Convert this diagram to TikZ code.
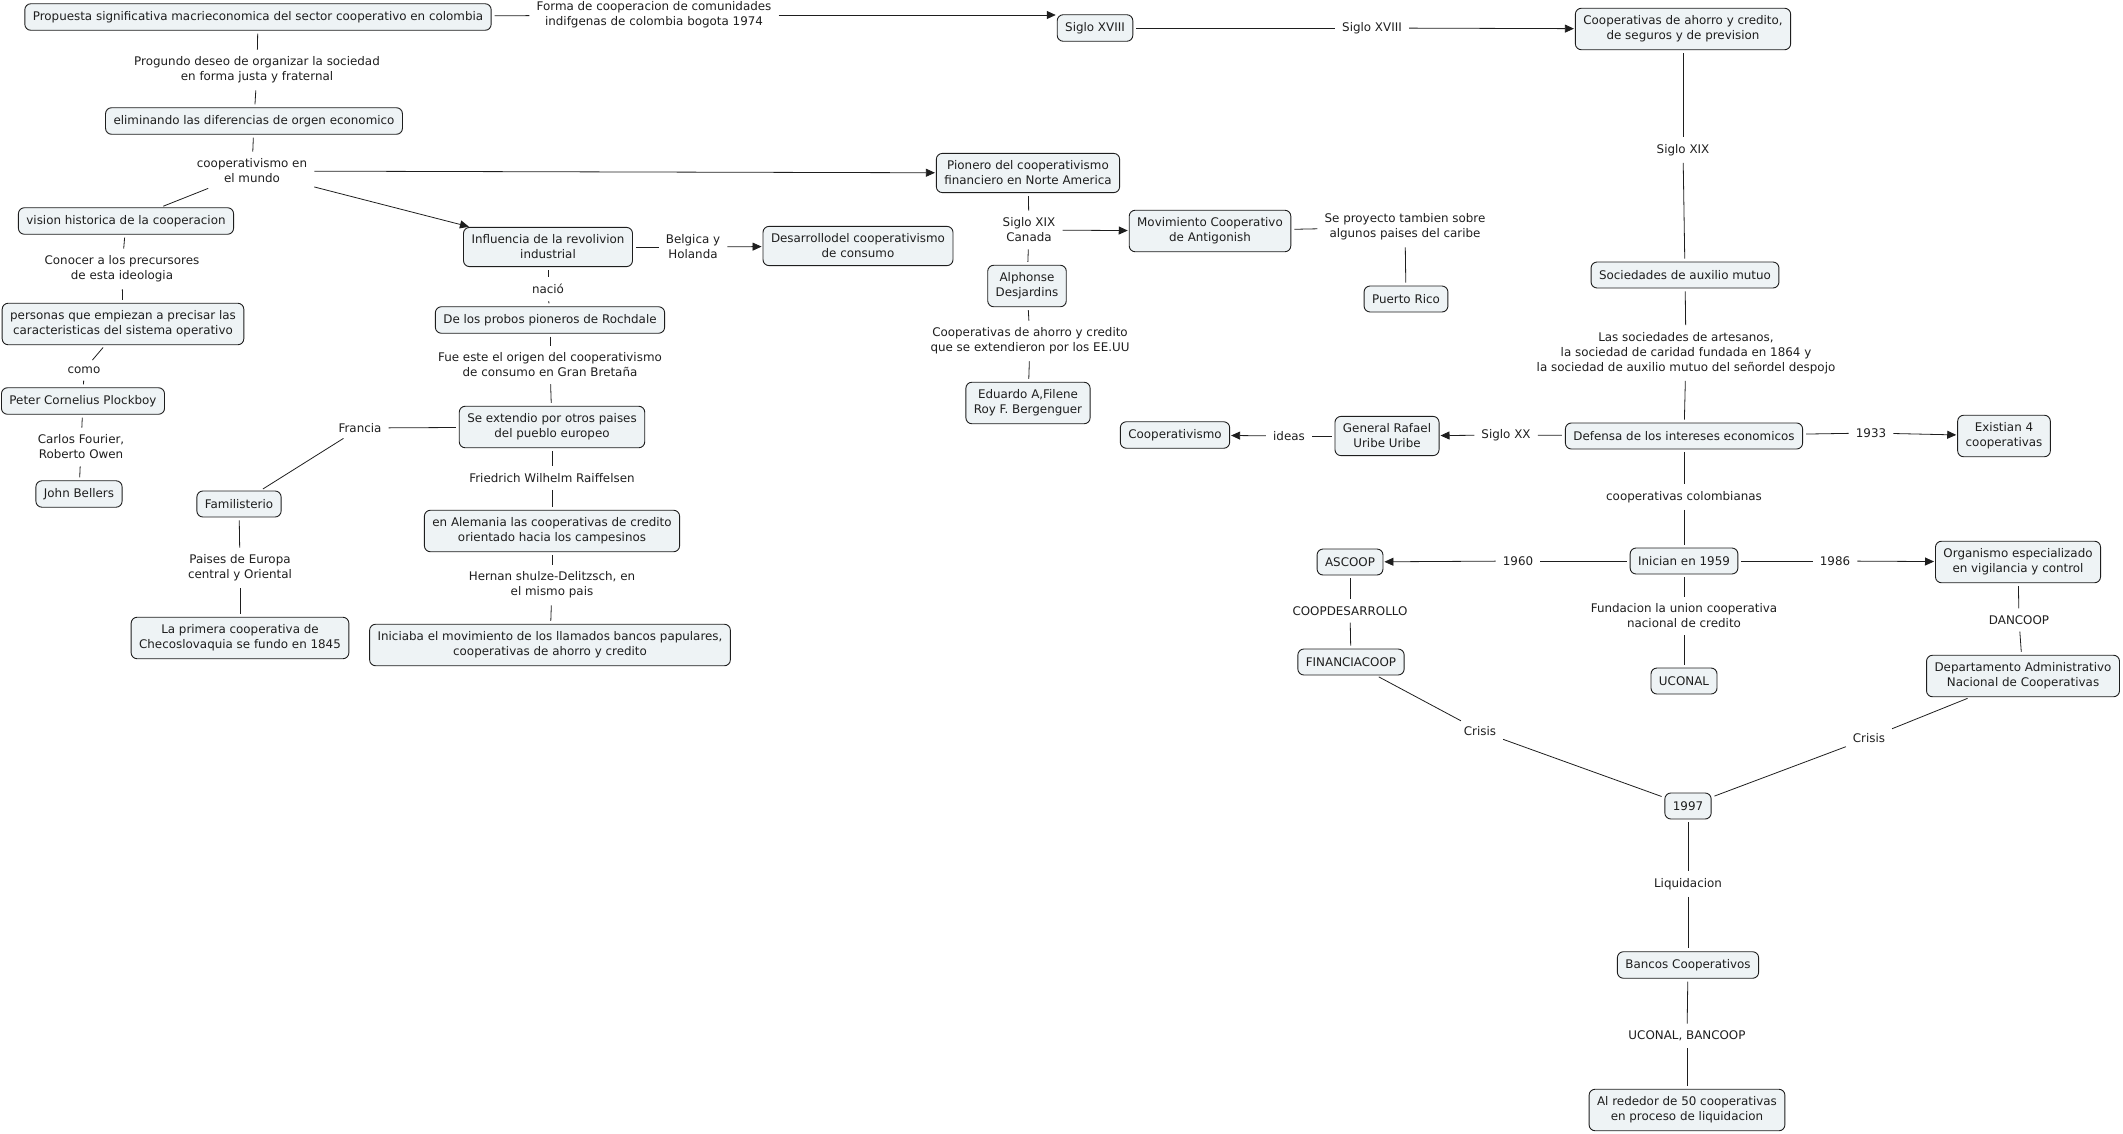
\documentclass[tikz,border=0pt]{standalone}
\usepackage{fontspec}
\setmainfont{DejaVu Sans}
\usepackage{xcolor}
\definecolor{cfill}{RGB}{238,243,245}
\definecolor{cline}{RGB}{30,30,30}
\usetikzlibrary{arrows.meta}

\begin{document}
\begin{tikzpicture}[
  x=1pt, y=-1pt,
  every node/.style={font=\fontsize{11.9}{15}\selectfont, text=cline},
  concept/.style={draw=cline, line width=0.9pt, fill=cfill, rounded corners=6pt,
                  align=center, inner xsep=8pt, inner ysep=7.5pt, minimum height=26pt},
  lbl/.style={align=center, inner sep=4pt},
  conn/.style={draw=cline, line width=0.8pt, shorten <=3pt, shorten >=3pt},
  arr/.style={conn, -{Triangle[length=9pt,width=8pt]}, shorten >=1pt},
]
  \useasboundingbox (0,0) rectangle (2123,1133);

  % Left column
  \node[concept] (prop)     at (258,17)  {Propuesta significativa macrieconomica del sector cooperativo en colombia};
  \node[lbl]     (progundo) at (257,70)  {Progundo deseo de organizar la sociedad\\en forma justa y fraternal};
  \node[concept] (elim)     at (254,121) {eliminando las diferencias de orgen economico};
  \node[lbl]     (coopm)    at (252,171) {cooperativismo en\\el mundo};
  \node[concept] (vision)   at (126,221) {vision historica de la cooperacion};
  \node[lbl]     (conocer)  at (122,269) {Conocer a los precursores\\de esta ideologia};
  \node[concept] (personas) at (123,324) {personas que empiezan a precisar las\\caracteristicas del sistema operativo};
  \node[lbl]     (como)     at (84,370)  {como};
  \node[concept] (peter)    at (83,401)  {Peter Cornelius Plockboy};
  \node[lbl]     (carlos)   at (81,447)  {Carlos Fourier,\\Roberto Owen};
  \node[concept] (bellers)  at (79,494)  {John Bellers};

  \draw[conn] (prop) -- (progundo);
  \draw[conn] (progundo) -- (elim);
  \draw[conn] (elim) -- (coopm);
  \draw[conn] (coopm) -- (vision);
  \draw[conn] (vision) -- (conocer);
  \draw[conn] (conocer) -- (personas);
  \draw[conn] (personas) -- (como);
  \draw[conn] (como) -- (peter);
  \draw[conn] (peter) -- (carlos);
  \draw[conn] (carlos) -- (bellers);

  % Revolucion industrial branch
  \node[concept] (influ)     at (548,247) {Influencia de la revolivion\\industrial};
  \node[lbl]     (belgica)   at (693,247) {Belgica y\\Holanda};
  \node[concept] (desarr)    at (858,246) {Desarrollodel cooperativismo\\de consumo};
  \node[lbl]     (nacio)     at (548,289) {nació};
  \node[concept] (rochdale)  at (550,320) {De los probos pioneros de Rochdale};
  \node[lbl]     (fueeste)   at (550,365) {Fue este el origen del cooperativismo\\de consumo en Gran Bretaña};
  \node[concept] (extendio)  at (552,427) {Se extendio por otros paises\\del pueblo europeo};
  \node[lbl]     (francia)   at (360,428) {Francia};
  \node[concept] (famil)     at (239,504) {Familisterio};
  \node[lbl]     (paises)    at (240,568) {Paises de Europa\\central y Oriental};
  \node[concept] (primera)   at (240,638) {La primera cooperativa de\\Checoslovaquia se fundo en 1845};
  \node[lbl]     (friedrich) at (552,478) {Friedrich Wilhelm Raiffelsen};
  \node[concept] (alemania)  at (552,531) {en Alemania las cooperativas de credito\\orientado hacia los campesinos};
  \node[lbl]     (hernan)    at (552,585) {Hernan shulze-Delitzsch, en\\el mismo pais};
  \node[concept] (iniciaba)  at (550,645) {Iniciaba el movimiento de los llamados bancos papulares,\\cooperativas de ahorro y credito};

  \draw[arr]  (coopm) -- (influ);
  \draw[conn] (influ) -- (belgica);
  \draw[arr]  (belgica) -- (desarr);
  \draw[conn] (influ) -- (nacio);
  \draw[conn] (nacio) -- (rochdale);
  \draw[conn] (rochdale) -- (fueeste);
  \draw[conn] (fueeste) -- (extendio);
  \draw[conn] (extendio) -- (francia);
  \draw[conn] (francia) -- (famil);
  \draw[conn] (famil) -- (paises);
  \draw[conn] (paises) -- (primera);
  \draw[conn] (extendio) -- (friedrich);
  \draw[conn] (friedrich) -- (alemania);
  \draw[conn] (alemania) -- (hernan);
  \draw[conn] (hernan) -- (iniciaba);

  % Norte America branch
  \node[concept] (pionero)  at (1028,173) {Pionero del cooperativismo\\financiero en Norte America};
  \node[lbl]     (canada)   at (1029,230) {Siglo XIX\\Canada};
  \node[concept] (antig)    at (1210,231) {Movimiento Cooperativo\\de Antigonish};
  \node[lbl]     (proyecto) at (1405,227) {Se proyecto tambien sobre\\algunos paises del caribe};
  \node[concept] (prico)    at (1406,299) {Puerto Rico};
  \node[concept] (alphonse) at (1027,286) {Alphonse\\Desjardins};
  \node[lbl]     (eeuu)     at (1030,341) {Cooperativas de ahorro y credito\\que se extendieron por los EE.UU};
  \node[concept] (eduardo)  at (1028,403) {Eduardo A,Filene\\Roy F. Bergenguer};

  \draw[arr]  (coopm) -- (pionero);
  \draw[conn] (pionero) -- (canada);
  \draw[arr]  (canada) -- (antig);
  \draw[conn] (canada) -- (alphonse);
  \draw[conn] (antig) -- (proyecto);
  \draw[conn] (proyecto) -- (prico);
  \draw[conn] (alphonse) -- (eeuu);
  \draw[conn] (eeuu) -- (eduardo);

  % Top row and Colombia
  \node[lbl]     (forma)     at (654,15)   {Forma de cooperacion de comunidades\\indifgenas de colombia bogota 1974};
  \node[concept] (sxviii)    at (1095,28)  {Siglo XVIII};
  \node[lbl]     (lsxviii)   at (1372,28)  {Siglo XVIII};
  \node[concept] (ahorro)    at (1683,29)  {Cooperativas de ahorro y credito,\\de seguros y de prevision};
  \node[lbl]     (lsxix)     at (1683,150) {Siglo XIX};
  \node[concept] (auxilio)   at (1685,275) {Sociedades de auxilio mutuo};
  \node[lbl]     (artesanos) at (1686,353) {Las sociedades de artesanos,\\la sociedad de caridad fundada en 1864 y\\la sociedad de auxilio mutuo del señordel despojo};
  \node[concept] (defensa)   at (1684,436) {Defensa de los intereses economicos};
  \node[lbl]     (l1933)     at (1871,433) {1933};
  \node[concept] (existian)  at (2004,436) {Existian 4\\cooperativas};
  \node[lbl]     (lsxx)      at (1506,435) {Siglo XX};
  \node[concept] (uribe)     at (1387,436) {General Rafael\\Uribe Uribe};
  \node[lbl]     (ideas)     at (1289,436) {ideas};
  \node[concept] (coopismo)  at (1175,435) {Cooperativismo};

  \draw[conn] (prop) -- (forma);
  \draw[arr]  (forma) -- (sxviii.west |- forma);
  \draw[conn] (sxviii) -- (lsxviii);
  \draw[arr]  (lsxviii) -- (ahorro);
  \draw[conn] (ahorro) -- (lsxix);
  \draw[conn] (lsxix) -- (auxilio);
  \draw[conn] (auxilio) -- (artesanos);
  \draw[conn] (artesanos) -- (defensa);
  \draw[conn] (defensa) -- (l1933);
  \draw[arr]  (l1933) -- (existian);
  \draw[conn] (defensa) -- (lsxx);
  \draw[arr]  (lsxx) -- (uribe);
  \draw[conn] (uribe) -- (ideas);
  \draw[arr]  (ideas) -- (coopismo);

  % 1959 onwards
  \node[lbl]     (colomb)    at (1684,497) {cooperativas colombianas};
  \node[concept] (inician)   at (1684,561) {Inician en 1959};
  \node[lbl]     (l1960)     at (1518,561) {1960};
  \node[concept] (ascoop)    at (1350,562) {ASCOOP};
  \node[lbl]     (l1986)     at (1835,561) {1986};
  \node[concept] (organismo) at (2018,562) {Organismo especializado\\en vigilancia y control};
  \node[lbl]     (coopdes)   at (1350,611) {COOPDESARROLLO};
  \node[concept] (financia)  at (1351,662) {FINANCIACOOP};
  \node[lbl]     (fundacion) at (1684,616) {Fundacion la union cooperativa\\nacional de credito};
  \node[concept] (uconal)    at (1684,681) {UCONAL};
  \node[lbl]     (dancoop)   at (2019,620) {DANCOOP};
  \node[concept] (dpto)      at (2023,676) {Departamento Administrativo\\Nacional de Cooperativas};
  \node[lbl]     (crisisl)   at (1480,731) {Crisis};
  \node[lbl]     (crisisr)   at (1869,738) {Crisis};
  \node[concept] (y1997)     at (1688,806) {1997};
  \node[lbl]     (liquid)    at (1688,884) {Liquidacion};
  \node[concept] (bancos)    at (1688,965) {Bancos Cooperativos};
  \node[lbl]     (ubancoop)  at (1687,1036) {UCONAL, BANCOOP};
  \node[concept] (rededor)   at (1687,1110) {Al rededor de 50 cooperativas\\en proceso de liquidacion};

  \draw[conn] (defensa) -- (colomb);
  \draw[conn] (colomb) -- (inician);
  \draw[conn] (inician) -- (l1960);
  \draw[arr]  (l1960) -- (ascoop);
  \draw[conn] (inician) -- (l1986);
  \draw[arr]  (l1986) -- (organismo);
  \draw[conn] (inician) -- (fundacion);
  \draw[conn] (fundacion) -- (uconal);
  \draw[conn] (ascoop) -- (coopdes);
  \draw[conn] (coopdes) -- (financia);
  \draw[conn] (organismo) -- (dancoop);
  \draw[conn] (dancoop) -- (dpto);
  \draw[conn] (financia) -- (crisisl);
  \draw[conn] (crisisl) -- (y1997);
  \draw[conn] (dpto) -- (crisisr);
  \draw[conn] (crisisr) -- (y1997);
  \draw[conn] (y1997) -- (liquid);
  \draw[conn] (liquid) -- (bancos);
  \draw[conn] (bancos) -- (ubancoop);
  \draw[conn] (ubancoop) -- (rededor);
\end{tikzpicture}
\end{document}
